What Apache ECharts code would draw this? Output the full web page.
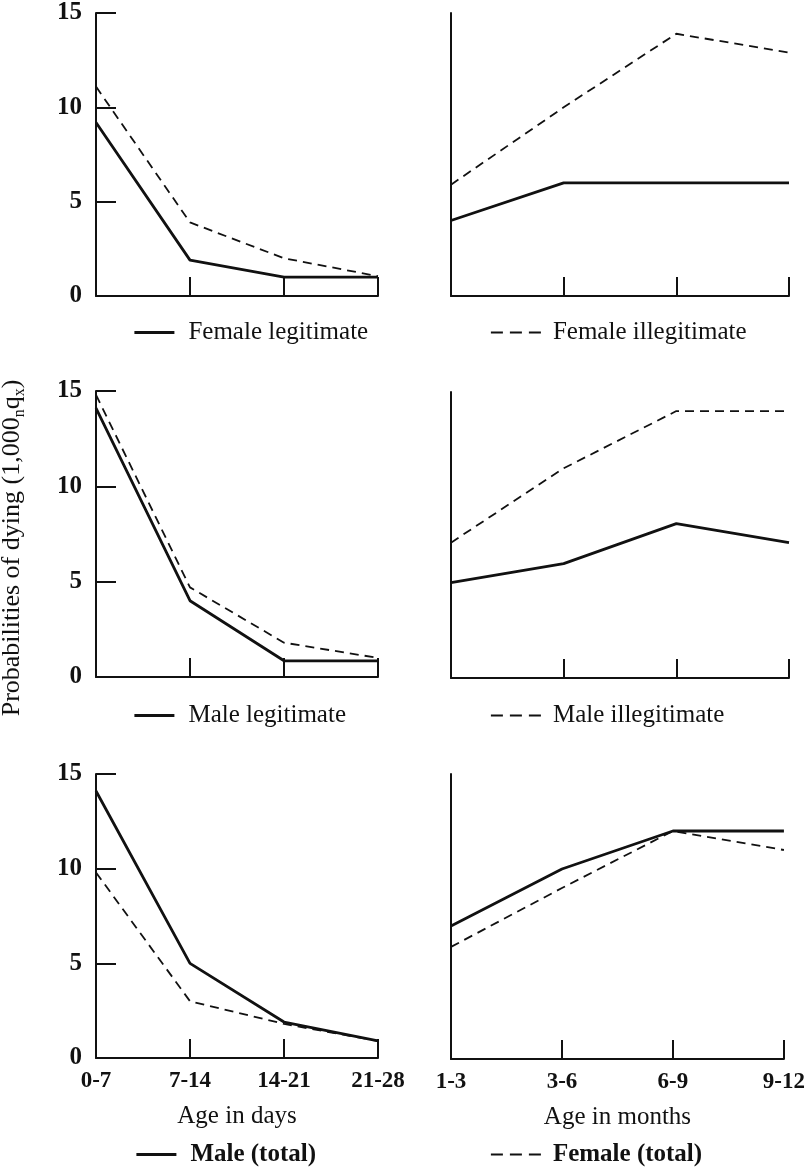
<!DOCTYPE html>
<html><head><meta charset="utf-8">
<script src="https://cdn.jsdelivr.net/npm/echarts@6/dist/echarts.min.js"></script>
<style>html,body{margin:0;padding:0;background:#fff}#c{width:808px;height:1171px}</style>
</head><body><div id="c"></div>
<script>
// ---- data ----
const dayCats = ['0-7', '7-14', '14-21', '21-28'];
const monthCats = ['1-3', '3-6', '6-9', '9-12'];
const yMin = 0, yMax = 15, yStep = 5;

const femaleLegitDays = [9.2, 1.9, 1.0, 1.0];
const femaleIllegitDays = [11.1, 3.9, 2.0, 1.05];
const femaleLegitMonths = [4.0, 6.0, 6.0, 6.0];
const femaleIllegitMonths = [5.9, 10.0, 13.9, 12.9];

const maleLegitDays = [14.1, 4.0, 0.85, 0.85];
const maleIllegitDays = [14.8, 4.7, 1.8, 1.0];
const maleLegitMonths = [5.0, 6.0, 8.1, 7.1];
const maleIllegitMonths = [7.1, 11.0, 14.0, 14.0];

const maleTotalDays = [14.1, 5.0, 1.9, 0.9];
const femaleTotalDays = [9.8, 3.0, 1.8, 0.9];
const maleTotalMonths = [7.0, 10.0, 12.0, 12.0];
const femaleTotalMonths = [5.9, 9.0, 12.0, 11.0];

const yTitle = 'Probabilities of dying';
const xTitleDays = 'Age in days';
const xTitleMonths = 'Age in months';

// ---- chart ----
const F = '"Liberation Serif", "Times New Roman", serif';
const BLACK = '#111';
const chart = echarts.init(document.getElementById('c'), null, {renderer: 'canvas'});

const grids = [
  {left: 96, top: 13, width: 282, height: 283},
  {left: 451, top: 13, width: 338, height: 283},
  {left: 96, top: 391, width: 282, height: 286},
  {left: 451, top: 392, width: 338, height: 286},
  {left: 96, top: 774, width: 282, height: 284},
  {left: 451, top: 774, width: 338, height: 285}
];

function xAxis(i, cats, showLabel, name) {
  return {
    type: 'category', gridIndex: i, data: cats, boundaryGap: false,
    axisLine: {show: true, onZero: false, lineStyle: {color: BLACK, width: 2}},
    axisTick: {show: true, inside: true, length: 19, interval: 0, lineStyle: {color: BLACK, width: 2}},
    axisLabel: {show: showLabel, interval: 0, color: BLACK, fontFamily: F, fontSize: 23, fontWeight: 'bold', margin: 12},
    splitLine: {show: false},
    name: name || '', nameLocation: 'middle', nameGap: 46,
    nameTextStyle: {color: BLACK, fontFamily: F, fontSize: 25}
  };
}
function yAxis(i, left) {
  return {
    type: 'value', gridIndex: i, min: yMin, max: yMax, interval: yStep,
    axisLine: {show: true, lineStyle: {color: BLACK, width: 2}},
    axisTick: {show: left, inside: true, length: 20, lineStyle: {color: BLACK, width: 2}},
    axisLabel: {show: left, color: BLACK, fontFamily: F, fontSize: 25, fontWeight: 'bold', margin: 14},
    splitLine: {show: false}
  };
}
function solid(name, i, data) {
  return {type: 'line', name, xAxisIndex: i, yAxisIndex: i, data, symbol: 'none', silent: true,
    lineStyle: {color: BLACK, width: 2.8, type: 'solid'}, itemStyle: {color: BLACK}};
}
function dashed(name, i, data) {
  return {type: 'line', name, xAxisIndex: i, yAxisIndex: i, data, symbol: 'none', silent: true,
    lineStyle: {color: BLACK, width: 1.8, type: [9, 6]}, itemStyle: {color: BLACK}};
}
function legend(name, left, top, bold, isDashed) {
  return {
    data: [name], left, top, selectedMode: false,
    itemWidth: isDashed ? 50 : 40, itemHeight: 14, padding: 0,
    itemStyle: {opacity: 0},
    lineStyle: isDashed ? {type: [12, 7], width: 1.8, color: BLACK} : {width: 2.8, color: BLACK},
    textStyle: {color: BLACK, fontFamily: F, fontSize: 25, fontWeight: bold ? 'bold' : 'normal',
      padding: [0, 0, 0, isDashed ? 7 : 9]}
  };
}

const option = {
  backgroundColor: '#fff',
  animation: false,
  grid: grids,
  xAxis: [
    xAxis(0, dayCats, false), xAxis(1, monthCats, false),
    xAxis(2, dayCats, false), xAxis(3, monthCats, false),
    xAxis(4, dayCats, true, xTitleDays), xAxis(5, monthCats, true, xTitleMonths)
  ],
  yAxis: [yAxis(0, true), yAxis(1, false), yAxis(2, true), yAxis(3, false), yAxis(4, true), yAxis(5, false)],
  legend: [
    legend('Female legitimate', 133, 320, false, false),
    legend('Female illegitimate', 490, 320, false, true),
    legend('Male legitimate', 133, 703, false, false),
    legend('Male illegitimate', 490, 703, false, true),
    legend('Male (total)', 135, 1142, true, false),
    legend('Female (total)', 490, 1142, true, true)
  ],
  series: [
    solid('Female legitimate', 0, femaleLegitDays),
    dashed('Female illegitimate', 0, femaleIllegitDays),
    solid('Female legitimate', 1, femaleLegitMonths),
    dashed('Female illegitimate', 1, femaleIllegitMonths),
    solid('Male legitimate', 2, maleLegitDays),
    dashed('Male illegitimate', 2, maleIllegitDays),
    solid('Male legitimate', 3, maleLegitMonths),
    dashed('Male illegitimate', 3, maleIllegitMonths),
    solid('Male (total)', 4, maleTotalDays),
    dashed('Female (total)', 4, femaleTotalDays),
    solid('Male (total)', 5, maleTotalMonths),
    dashed('Female (total)', 5, femaleTotalMonths)
  ],
  graphic: [{
    type: 'text', x: 12, y: 548, rotation: Math.PI / 2, silent: true,
    style: {
      text: '{a|' + yTitle + ' (1,000}{s|n}{a|q}{s|x}{a|)}',
      align: 'center', verticalAlign: 'middle', fill: BLACK,
      rich: {
        a: {fontFamily: F, fontSize: 26, lineHeight: 32, fill: BLACK},
        s: {fontFamily: F, fontSize: 16, verticalAlign: 'bottom', fill: BLACK}
      }
    }
  }]
};
chart.setOption(option);
</script>
</body></html>
